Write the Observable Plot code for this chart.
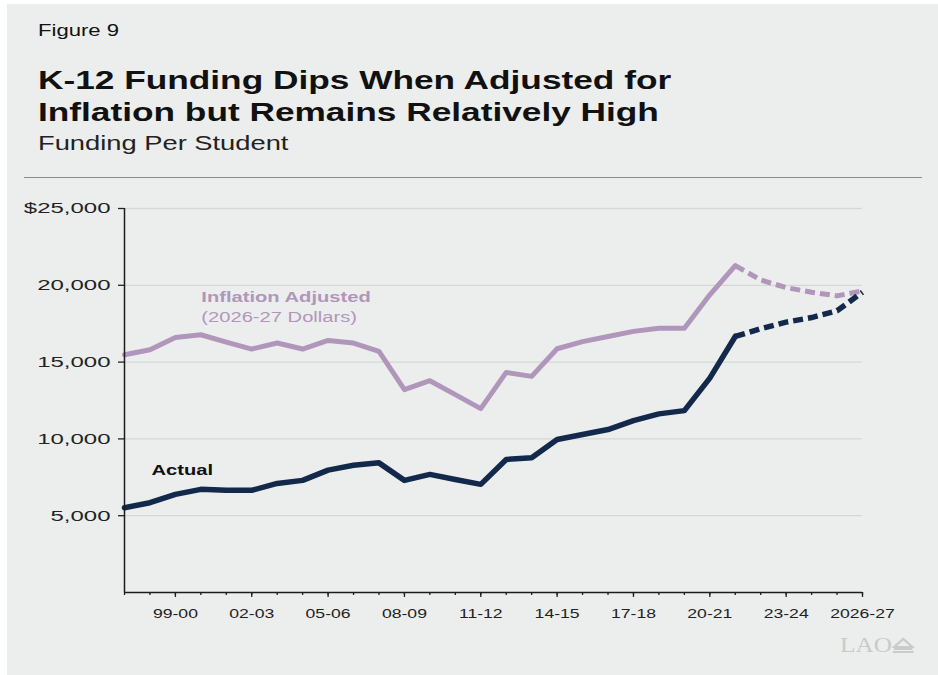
<!DOCTYPE html>
<html>
<head>
<meta charset="utf-8">
<script src="https://cdn.jsdelivr.net/npm/d3@7"></script>
<script src="https://cdn.jsdelivr.net/npm/@observablehq/plot@0.6"></script>
<style>
html, body { margin: 0; padding: 0; background: #ffffff; }
#page { position: relative; width: 938px; height: 675px; overflow: hidden; font-family: "Liberation Sans", Arial, sans-serif; }
#panel { position: absolute; left: 7px; top: 4px; width: 931px; height: 671px; background: #eceeed; }
.t { position: absolute; white-space: nowrap; transform-origin: 0 0; color: #111111; }
#fig { left: 38px; top: 22.5px; font-size: 16px; line-height: 16px; transform: scaleX(1.38); }
#title { left: 38px; top: 63.6px; font-size: 25px; line-height: 32px; font-weight: bold; transform: scaleX(1.41); }
#sub { left: 38px; top: 133.5px; font-size: 19.5px; line-height: 19.5px; transform: scaleX(1.40); color: #222; }
#rule { position: absolute; left: 24px; top: 177px; width: 898px; height: 1px; background: #8a8a8a; }
#chart { position: absolute; left: 0; top: 190px; }
#logo { position: absolute; left: 840px; top: 633.6px; font-family: "Liberation Serif", serif; font-size: 22px; line-height: 22px; color: #c9caca; transform-origin: 0 0; transform: scaleX(1.15); white-space: nowrap; }
</style>
</head>
<body>
<div id="page">
  <div id="panel"></div>
  <div class="t" id="fig">Figure 9</div>
  <div class="t" id="title">K-12 Funding Dips When Adjusted for<br>Inflation but Remains Relatively High</div>
  <div class="t" id="sub">Funding Per Student</div>
  <div id="rule"></div>
  <div id="chart"></div>
  <div id="logo">LAO<svg width="20" height="16" viewBox="0 0 20 16" style="vertical-align:-1px"><polygon points="2,10 10,2 18,10" fill="none" stroke="#c9caca" stroke-width="2"/><rect x="2" y="11" width="16" height="2" fill="#c9caca"/><rect x="1" y="14" width="18" height="2" fill="#c9caca"/></svg></div>
</div>
<script>
// ---- data ----
const startYears = [1997, 1998, 1999, 2000, 2001, 2002, 2003, 2004, 2005, 2006,
                    2007, 2008, 2009, 2010, 2011, 2012, 2013, 2014, 2015, 2016,
                    2017, 2018, 2019, 2020, 2021, 2022, 2023, 2024, 2025, 2026];
const schoolYears = ["97-98", "98-99", "99-00", "00-01", "01-02", "02-03", "03-04", "04-05", "05-06", "06-07",
                     "07-08", "08-09", "09-10", "10-11", "11-12", "12-13", "13-14", "14-15", "15-16", "16-17",
                     "17-18", "18-19", "19-20", "20-21", "21-22", "22-23", "23-24", "24-25", "25-26", "2026-27"];
const actual = [5520, 5845, 6390, 6715, 6650, 6650, 7100, 7300, 7970, 8280,
                8440, 7300, 7690, 7360, 7040, 8660, 8770, 9960, 10290, 10610,
                11190, 11630, 11840, 13960, 16670, 17170, 17600, 17900, 18340, 19550];
const inflationAdjusted = [15480, 15800, 16600, 16780, 16300, 15850, 16240, 15850, 16410, 16240,
                           15700, 13210, 13790, 12880, 11970, 14330, 14070, 15870, 16330, 16670,
                           17000, 17210, 17210, 19380, 21280, 20350, 19850, 19550, 19310, 19640];
const lastActualYear = 2021;
const majorTicks = [1999, 2002, 2005, 2008, 2011, 2014, 2017, 2020, 2023, 2026];
const yTicks = [5000, 10000, 15000, 20000, 25000];
const yTickLabels = ["5,000", "10,000", "15,000", "20,000", "$25,000"];
const annotationText = ["Inflation Adjusted", "(2026-27 Dollars)", "Actual"];
const annotationYear = [2000.02, 2000.02, 1998.06];
const annotationValue = [18896, 17613, 7624];

// ---- build ----
const rows = startYears.map((year, i) => ({year, actual: actual[i], inflation: inflationAdjusted[i]}));
const solid = rows.filter(d => d.year <= lastActualYear);
const dashed = rows.filter(d => d.year >= lastActualYear);
const notes = annotationText.map((label, i) => ({label, year: annotationYear[i], value: annotationValue[i], k: i}));

const purple = "#b196bb";
const navy = "#13294b";
const axisColor = "#1c1c1c";

const chart = Plot.plot({
  width: 938,
  height: 460,
  marginLeft: 124,
  marginRight: 76,
  marginTop: 18,
  marginBottom: 58,
  x: {domain: [1997, 2026]},
  y: {domain: [0, 25000]},
  style: {background: "transparent", fontFamily: "Liberation Sans, Arial, sans-serif", overflow: "visible", color: "#222"},
  marks: [
    Plot.gridY(yTicks, {stroke: "#d5d7d7", strokeOpacity: 1, strokeWidth: 1.3}),
    Plot.line(solid, {x: "year", y: "inflation", stroke: purple, strokeWidth: 5}),
    Plot.line(dashed, {x: "year", y: "inflation", stroke: purple, strokeWidth: 5, strokeDasharray: "10,5", strokeLinecap: "butt"}),
    Plot.line(solid, {x: "year", y: "actual", stroke: navy, strokeWidth: 5.5}),
    Plot.line(dashed, {x: "year", y: "actual", stroke: navy, strokeWidth: 5.5, strokeDasharray: "10,5", strokeLinecap: "butt"}),
    Plot.ruleX([1997], {y1: 0, y2: 25000, stroke: axisColor, strokeWidth: 1.5}),
    Plot.ruleY([0], {x1: 1997, x2: 2026, stroke: axisColor, strokeWidth: 1.5}),
    Plot.axisY(yTicks, {tickSize: 6, tickPadding: 8, tickFormat: d => yTickLabels[yTicks.indexOf(d)], fontSize: 15, label: null, color: "#222", strokeWidth: 1.3}),
    Plot.axisX(startYears, {tickSize: 3, tickFormat: () => "", label: null, color: axisColor, strokeWidth: 1.3}),
    Plot.axisX(majorTicks, {tickSize: 5, tickPadding: 12, tickFormat: d => schoolYears[startYears.indexOf(d)], fontSize: 12.5, label: null, color: "#222", strokeWidth: 1.3}),
    Plot.text(notes.filter(d => d.k === 0), {x: "year", y: "value", text: "label", textAnchor: "start", lineAnchor: "bottom", fontSize: 14.5, fontWeight: "bold", fill: purple}),
    Plot.text(notes.filter(d => d.k === 1), {x: "year", y: "value", text: "label", textAnchor: "start", lineAnchor: "bottom", fontSize: 14.5, fill: purple}),
    Plot.text(notes.filter(d => d.k === 2), {x: "year", y: "value", text: "label", textAnchor: "start", lineAnchor: "bottom", fontSize: 14.5, fontWeight: "bold", fill: "#111"})
  ]
});

function stretch(el, s) {
  const t = el.getAttribute("transform");
  if (t) el.setAttribute("transform", t + ` scale(${s},1)`);
  else {
    const x = +(el.getAttribute("x") || 0);
    el.setAttribute("transform", `translate(${x},0) scale(${s},1) translate(${-x},0)`);
  }
}
chart.querySelectorAll('g[aria-label="y-axis tick label"] text').forEach(el => stretch(el, 1.6));
chart.querySelectorAll('g[aria-label="x-axis tick label"] text').forEach(el => stretch(el, 1.41));
chart.querySelectorAll('g[aria-label="text"] text').forEach(el => stretch(el, 1.39));

document.getElementById("chart").appendChild(chart);
</script>
</body>
</html>
